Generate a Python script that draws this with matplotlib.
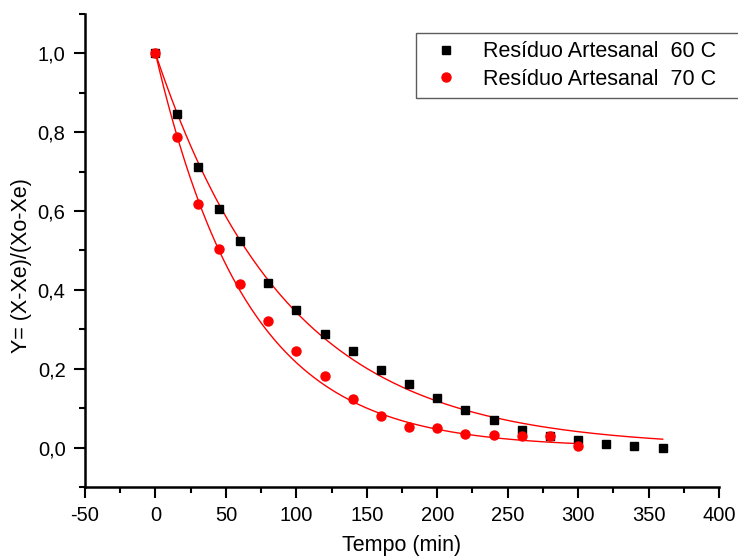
import matplotlib
matplotlib.use("Agg")
import matplotlib.pyplot as plt
import numpy as np
from matplotlib.ticker import FuncFormatter, MultipleLocator

plt.rcParams["font.family"] = ["Liberation Sans", "DejaVu Sans"]

# data
tempo = [0, 15, 30, 45, 60, 80, 100, 120, 140, 160, 180, 200, 220, 240,
         260, 280, 300, 320, 340, 360]
y_60 = [1.0, 0.846, 0.711, 0.606, 0.525, 0.418, 0.350, 0.289, 0.244, 0.198,
        0.161, 0.126, 0.095, 0.069, 0.045, 0.029, 0.018, 0.009, 0.003, -0.001]
tempo_70 = tempo[:17]
y_70 = [1.0, 0.787, 0.618, 0.504, 0.414, 0.320, 0.244, 0.181, 0.123, 0.079,
        0.052, 0.050, 0.034, 0.031, 0.030, 0.029, 0.003]

# exponential fit constants (Y = exp(-k t)), estimated from the fitted curves
k_60 = 0.0107
k_70 = 0.01535
fit_end_60 = 360
fit_end_70 = 300

labels = ["Resíduo Artesanal  60 C", "Resíduo Artesanal  70 C"]


def comma(v, _pos):
    return f"{v:.1f}".replace(".", ",")


def plain_int(v, _pos):
    return f"{v:.0f}"


fig = plt.figure(figsize=(7.38, 5.57), dpi=100)
ax = fig.add_axes([0.1152, 0.1257, 0.8591, 0.8492])

t60 = np.linspace(0, fit_end_60, 300)
t70 = np.linspace(0, fit_end_70, 300)
ax.plot(t60, np.exp(-k_60 * t60), color="red", lw=1.0, zorder=2)
ax.plot(t70, np.exp(-k_70 * t70), color="red", lw=1.0, zorder=2)

ax.plot(tempo, y_60, ls="none", marker="s", ms=6, color="black", label=labels[0], zorder=3)
ax.plot(tempo_70, y_70, ls="none", marker="o", ms=6.5, color="red", label=labels[1], zorder=4)

ax.set_xlim(-50, 400)
ax.set_ylim(-0.1, 1.1)
ax.xaxis.set_major_locator(MultipleLocator(50))
ax.xaxis.set_minor_locator(MultipleLocator(25))
ax.xaxis.set_major_formatter(FuncFormatter(plain_int))
ax.yaxis.set_major_locator(MultipleLocator(0.2))
ax.yaxis.set_minor_locator(MultipleLocator(0.1))
ax.yaxis.set_major_formatter(FuncFormatter(comma))

for side in ("top", "right"):
    ax.spines[side].set_visible(False)
for side in ("left", "bottom"):
    ax.spines[side].set_linewidth(1.8)

ax.tick_params(which="major", direction="out", length=8, width=1.5, labelsize=14.5, pad=6)
ax.tick_params(which="minor", direction="out", length=4.5, width=1.5)

# axis titles placed in figure coordinates so they sit where the reference has them
fig.text(402 / 738, 1 - 546 / 557, "Tempo (min)", fontsize=15.5, ha="center", va="center")
fig.text(22 / 738, 1 - 266 / 557, "Y= (X-Xe)/(Xo-Xe)", fontsize=15.5,
         rotation=90, ha="center", va="center")

leg = ax.legend(loc="upper left", mode="expand",
                bbox_to_anchor=(416 / 738, 1 - 96.7 / 557, 330 / 738, 64 / 557),
                bbox_transform=fig.transFigure, fontsize=15.5, frameon=True,
                fancybox=False, edgecolor="#333333", borderpad=0.4,
                handletextpad=0.72, labelspacing=0.3, handlelength=2.0,
                borderaxespad=0)
leg.get_frame().set_linewidth(1.0)

fig.savefig("out.png", dpi=100)
